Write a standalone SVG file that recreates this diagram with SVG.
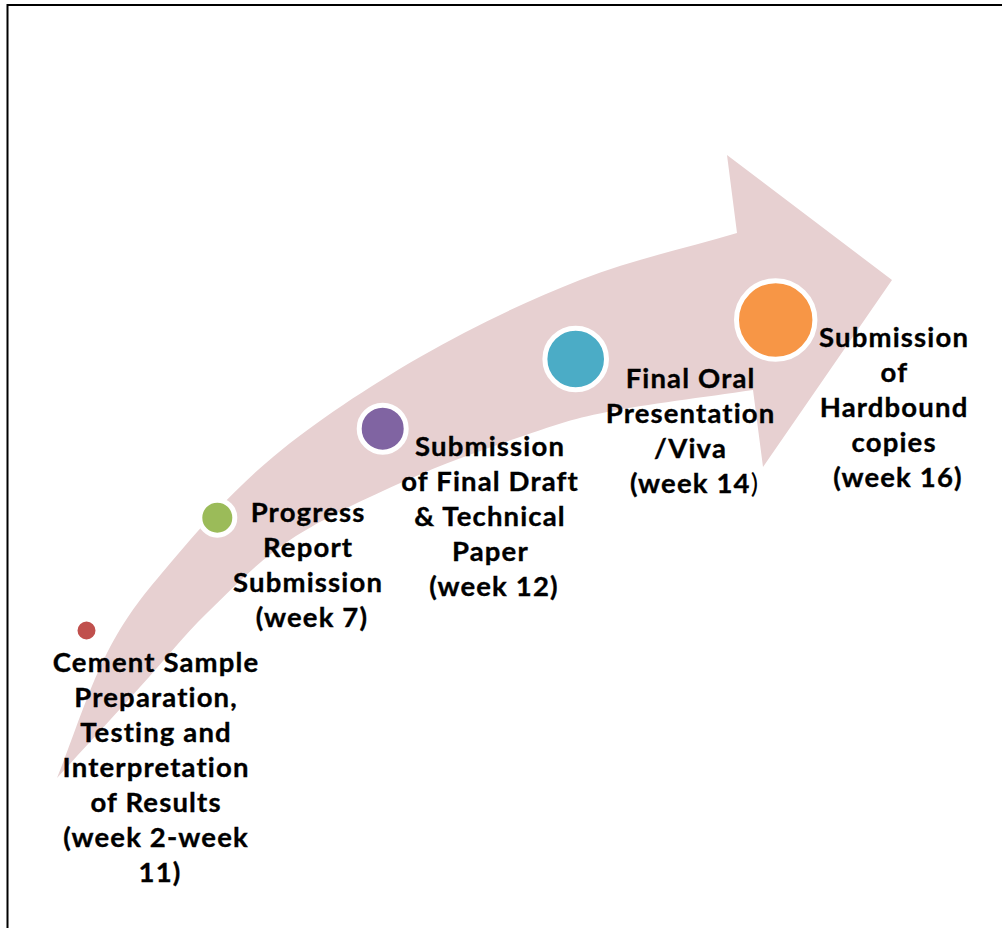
<svg xmlns="http://www.w3.org/2000/svg" width="1002" height="928" viewBox="0 0 1002 928">
  <style>
    .lbl { font-family: Lato, "Liberation Sans", sans-serif; font-weight: 700; font-size: 27.5px; letter-spacing: 1.15px; fill: #000; stroke: #000; stroke-width: 0.35px; text-anchor: middle; }
    .thin { font-weight: 400; stroke-width: 0; }
    .dot { stroke: #fff; stroke-width: 5; }
  </style>
  <rect x="0" y="0" width="1002" height="928" fill="#fff"/>
  <!-- frame (right and bottom edges fall outside the canvas) -->
  <rect x="7.5" y="5" width="1100" height="1000" fill="none" stroke="#000" stroke-width="2"/>

  <!-- curved timeline arrow -->
  <g id="connectors">
    <path id="timeline-arrow" fill="#E7D0D1"
      d="M57,778
         C73.7,736.3 88.7,688.2 107,653
         C125.3,617.8 139.3,599.7 167,567
         C194.7,534.3 230.8,492 273,457
         C315.2,422 368.8,386.5 420,357
         C471.2,327.5 527.2,300.7 580,280
         C632.8,259.3 684.7,248.7 737,233
         L727,155 L892,280 L763,467 L753,390
         C704.3,397.3 645.8,404.2 607,412
         C568.2,419.8 553.3,425.7 520,437
         C486.7,448.3 445.3,462.8 407,480
         C368.7,497.2 323.3,517.8 290,540
         C256.7,562.2 232,588.5 207,613
         C182,637.5 165,659.5 140,687
         C115,714.5 84.7,747.7 57,778 Z"/>
  </g>

  <g id="node-cement">
    <circle class="dot" cx="86.5" cy="630.5" r="11.5" fill="#C0504D"/>
    <text class="lbl">
      <tspan x="160" y="671.5">Cement Sample</tspan>
      <tspan x="160" y="706.5">Preparation,</tspan>
      <tspan x="160" y="741.5">Testing and</tspan>
      <tspan x="160" y="776.5">Interpretation</tspan>
      <tspan x="160" y="811.5">of Results</tspan>
      <tspan x="160" y="846.5">(week 2-week</tspan>
      <tspan x="160" y="881.5">11)</tspan>
    </text>
  </g>

  <g id="node-progress">
    <circle class="dot" cx="217.3" cy="517.7" r="17.5" fill="#9BBB59"/>
    <text class="lbl">
      <tspan x="312" y="522.3">Progress</tspan>
      <tspan x="312" y="557.3">Report</tspan>
      <tspan x="312" y="592.3">Submission</tspan>
      <tspan x="312" y="627.3">(week 7)</tspan>
    </text>
  </g>

  <g id="node-final-draft">
    <circle class="dot" cx="382.7" cy="428.7" r="23.5" fill="#8064A2"/>
    <text class="lbl">
      <tspan x="494" y="455.7">Submission</tspan>
      <tspan x="494" y="490.7">of Final Draft</tspan>
      <tspan x="494" y="525.7">&amp; Technical</tspan>
      <tspan x="494" y="560.7">Paper</tspan>
      <tspan x="494" y="595.7">(week 12)</tspan>
    </text>
  </g>

  <g id="node-viva">
    <circle class="dot" cx="575.7" cy="359" r="30.8" fill="#4BACC6"/>
    <text class="lbl">
      <tspan x="694.5" y="387.7">Final Oral</tspan>
      <tspan x="694.5" y="422.7">Presentation</tspan>
      <tspan x="694.5" y="457.7">/Viva</tspan>
      <tspan x="694.5" y="492.7">(week 14<tspan class="thin">)</tspan></tspan>
    </text>
  </g>

  <g id="node-hardbound">
    <circle class="dot" cx="775.7" cy="320" r="39.2" fill="#F79646"/>
    <text class="lbl">
      <tspan x="898" y="346.7">Submission</tspan>
      <tspan x="898" y="381.7">of</tspan>
      <tspan x="898" y="416.7">Hardbound</tspan>
      <tspan x="898" y="451.7">copies</tspan>
      <tspan x="898" y="486.7">(week 16)</tspan>
    </text>
  </g>
</svg>
